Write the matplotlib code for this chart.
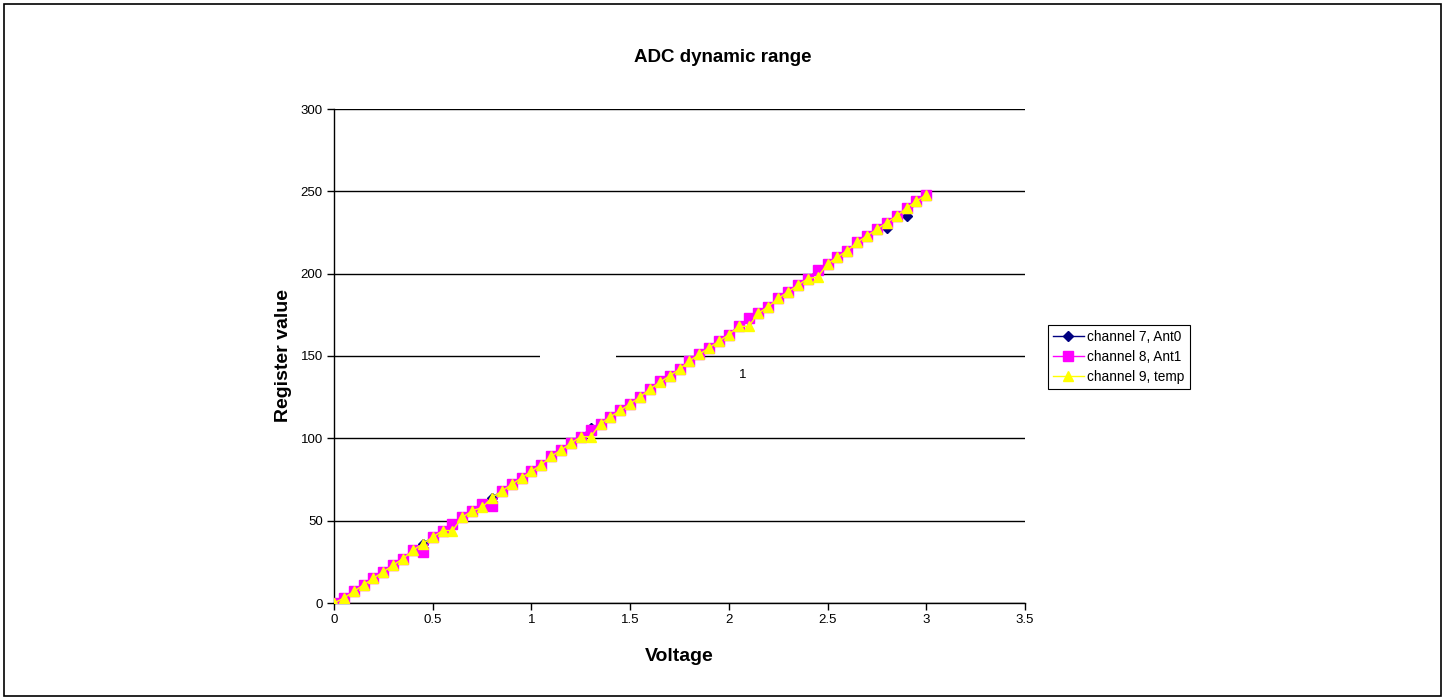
import matplotlib
matplotlib.use("Agg")
import matplotlib.pyplot as plt
from matplotlib.patches import Rectangle

plt.rcParams['font.family'] = ['Liberation Sans', 'DejaVu Sans']

# ---- data ----
voltage = [0.00, 0.05, 0.10, 0.15, 0.20, 0.25, 0.30, 0.35, 0.40, 0.45,
           0.50, 0.55, 0.60, 0.65, 0.70, 0.75, 0.80, 0.85, 0.90, 0.95,
           1.00, 1.05, 1.10, 1.15, 1.20, 1.25, 1.30, 1.35, 1.40, 1.45,
           1.50, 1.55, 1.60, 1.65, 1.70, 1.75, 1.80, 1.85, 1.90, 1.95,
           2.00, 2.05, 2.10, 2.15, 2.20, 2.25, 2.30, 2.35, 2.40, 2.45,
           2.50, 2.55, 2.60, 2.65, 2.70, 2.75, 2.80, 2.85, 2.90, 2.95,
           3.00]

ch7_ant0 = [0, 3, 7, 11, 15, 19, 23, 27, 32, 36,
            40, 44, 48, 52, 56, 60, 64, 68, 72, 76,
            80, 84, 89, 93, 97, 101, 106, 109, 113, 117,
            121, 125, 130, 134, 138, 142, 147, 151, 155, 159,
            163, 168, 172, 176, 180, 185, 189, 193, 197, 202,
            206, 210, 214, 219, 223, 227, 228, 235, 235, 244,
            248]

ch8_ant1 = [0, 3, 7, 11, 15, 19, 23, 27, 32, 31,
            40, 44, 48, 52, 56, 60, 59, 68, 72, 76,
            80, 84, 89, 93, 97, 101, 105, 109, 113, 117,
            121, 125, 130, 135, 138, 142, 147, 151, 155, 159,
            163, 168, 173, 176, 180, 185, 189, 193, 197, 202,
            206, 210, 214, 219, 223, 227, 231, 235, 240, 244,
            248]

ch9_temp = [0, 3, 7, 11, 15, 19, 23, 27, 32, 36,
            40, 44, 44, 52, 56, 58, 64, 68, 72, 76,
            80, 84, 89, 93, 97, 101, 101, 109, 113, 117,
            121, 125, 130, 134, 138, 142, 147, 151, 155, 159,
            163, 168, 168, 176, 180, 185, 189, 193, 197, 198,
            206, 210, 214, 219, 223, 227, 231, 235, 240, 244,
            248]

series_labels = ['channel 7, Ant0', 'channel 8, Ant1', 'channel 9, temp']
xtick_values = [0, 0.5, 1, 1.5, 2, 2.5, 3, 3.5]
xtick_labels = ['0', '0.5', '1', '1.5', '2', '2.5', '3', '3.5']
ytick_values = [0, 50, 100, 150, 200, 250, 300]
ytick_labels = ['0', '50', '100', '150', '200', '250', '300']

# ---- figure ----
W, H = 1445, 700
fig = plt.figure(figsize=(W / 100, H / 100), dpi=100)
fig.patch.set_facecolor('white')

ax = fig.add_axes([334 / W, 1 - 603 / H, (1025 - 334) / W, (603 - 109) / H])
ax.set_xlim(0, 3.5)
ax.set_ylim(0, 300)

ax.plot(voltage, ch7_ant0, color='#000080', marker='D', markersize=5,
        lw=1, label=series_labels[0], zorder=3)
ax.plot(voltage, ch8_ant1, color='#FF00FF', marker='s', markersize=6.5,
        lw=1, label=series_labels[1], zorder=4)
ax.plot(voltage, ch9_temp, color='#FFFF00', marker='^', markersize=7,
        lw=1, label=series_labels[2], zorder=5)

ax.set_xticks(xtick_values)
ax.set_xticklabels(xtick_labels)
ax.set_yticks(ytick_values)
ax.set_yticklabels(ytick_labels)
ax.tick_params(axis='both', direction='out', length=5, width=1,
               color='black', labelsize=9.5, pad=3)

ax.set_axisbelow(True)
ax.yaxis.grid(True, color='black', lw=1)
ax.xaxis.grid(False)
# gap in the 150 gridline
ax.add_patch(Rectangle((1.044, 147), 0.385, 6, facecolor='white',
                       edgecolor='none', zorder=1))

for s in ['top', 'right']:
    ax.spines[s].set_visible(False)
for s in ['left', 'bottom']:
    ax.spines[s].set_color('black')
    ax.spines[s].set_linewidth(1)

ax.text(2.072, 138.4, '1', fontsize=9.5, ha='center', va='center')

ax.set_xlabel('Voltage', fontsize=14, fontweight='bold', labelpad=15.5)
ax.set_ylabel('Register value', fontsize=14, fontweight='bold', labelpad=6)

fig.text(0.5, 1 - 57 / H, 'ADC dynamic range', fontsize=13.5, fontweight='bold',
         ha='center', va='center')

leg = ax.legend(loc='upper left', bbox_to_anchor=(1048 / W, 1 - 325 / H),
                bbox_transform=fig.transFigure, fontsize=9.8, frameon=True,
                fancybox=False, edgecolor='black', framealpha=1,
                borderaxespad=0, handlelength=2.3, handletextpad=0.25,
                labelspacing=0.45, borderpad=0.35)
leg.get_frame().set_linewidth(0.8)

# outer border
fig.patches.append(Rectangle((4 / W, 4 / H), 1 - 8 / W, 1 - 8 / H,
                             transform=fig.transFigure, fill=False,
                             edgecolor='black', lw=1.2))

fig.savefig('out.png', dpi=100)
